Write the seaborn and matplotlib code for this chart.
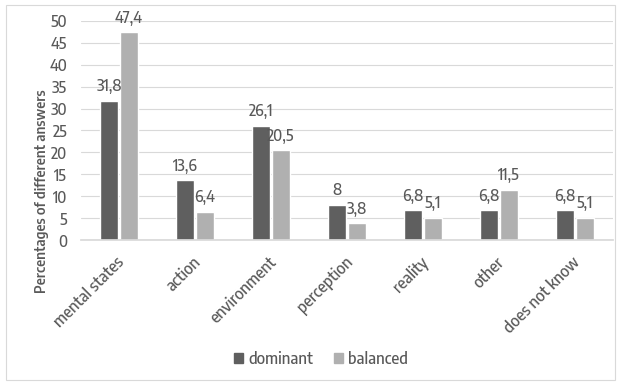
import matplotlib
matplotlib.use("Agg")
import matplotlib.pyplot as plt
import matplotlib.patches as mpatches
import matplotlib.transforms as mtransforms
import seaborn as sns
import pandas as pd

categories = ["mental states", "action", "environment", "perception",
              "reality", "other", "does not know"]
dominant = [31.8, 13.6, 26.1, 8.0, 6.8, 6.8, 6.8]
balanced = [47.4, 6.4, 20.5, 3.8, 5.1, 11.5, 5.1]
series_names = ["dominant", "balanced"]
yticks = list(range(0, 55, 5))

df = pd.DataFrame({
    "category": categories * 2,
    "value": dominant + balanced,
    "group": [series_names[0]] * len(categories) + [series_names[1]] * len(categories),
})

sns.set_theme(style="white")
plt.rcParams["font.family"] = ["Encode Sans Semi Condensed", "DejaVu Sans"]
plt.rcParams["font.weight"] = 500
text_color = "#595959"

fig = plt.figure(figsize=(6.21, 3.85), dpi=100)
ax = fig.add_axes([0.1304, 0.3766, 0.8566, 0.5689])

palette = {"dominant": "#5f5f5f", "balanced": "#b0b0b0"}
sns.barplot(data=df, x="category", y="value", hue="group", palette=palette,
            width=0.52, gap=0.1, ax=ax, saturation=1, legend=False)

ax.set_ylim(0, 50)
ax.set_xlim(-0.5, len(categories) - 0.5)
ax.set_yticks(yticks)
ax.yaxis.grid(True, color="#d9d9d9", linewidth=0.8)
ax.set_axisbelow(True)
for s in ["left", "right", "top"]:
    ax.spines[s].set_visible(False)
ax.spines["bottom"].set_color("#d9d9d9")
ax.tick_params(axis="y", length=0, labelsize=11, colors=text_color, pad=10)
ax.tick_params(axis="x", length=0, labelsize=11.5, colors=text_color, pad=10)
ax.set_xticks(range(len(categories)))
ax.set_xticklabels(categories, rotation=45, ha="right", rotation_mode="anchor")
shift = mtransforms.ScaledTranslation(-2 / 72, 0, fig.dpi_scale_trans)
for lbl in ax.get_xticklabels():
    lbl.set_transform(lbl.get_transform() + shift)
ax.set_xlabel("")
ax.set_ylabel("")
fig.text(42 / 621, 1 - 191 / 385, "Percentages of different answers", rotation=90,
         ha="center", va="center", fontsize=10.2, color=text_color, fontweight=600)

for cont in ax.containers:
    labels = [f"{v:g}".replace(".", ",") for v in cont.datavalues]
    ax.bar_label(cont, labels=labels, padding=4, fontsize=11, color=text_color, clip_on=False)

handles = [mpatches.Patch(color=palette[n], label=n) for n in series_names]
fig.legend(handles=handles, loc="center", bbox_to_anchor=(0.517, 0.0675), ncol=2,
           frameon=False, fontsize=11.5, handlelength=0.55, handleheight=0.55,
           handletextpad=0.35, columnspacing=1.3, labelcolor=text_color)

fig.patches.append(mpatches.Rectangle((6 / 621, 5 / 385), 609 / 621, 375 / 385,
                                      transform=fig.transFigure, fill=False,
                                      edgecolor="#d9d9d9", linewidth=0.8))

fig.savefig("out.png", dpi=100)
